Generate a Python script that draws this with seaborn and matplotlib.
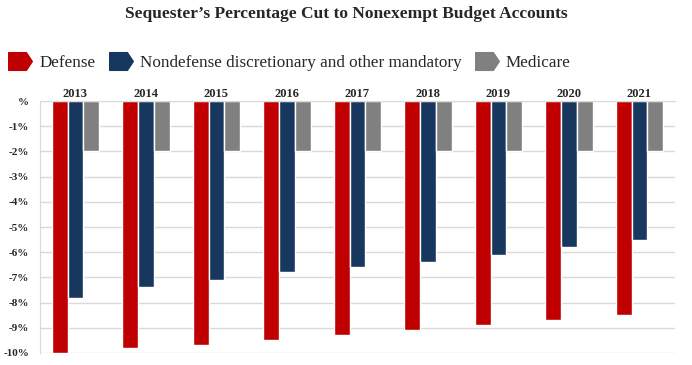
import numpy as np
import pandas as pd
import matplotlib
matplotlib.use("Agg")
import matplotlib.pyplot as plt
from matplotlib.lines import Line2D
from matplotlib.path import Path
import seaborn as sns

# Veriler (%)
years = ["2013", "2014", "2015", "2016", "2017", "2018", "2019", "2020", "2021"]
defense = [-10.0, -9.8, -9.7, -9.5, -9.3, -9.1, -8.9, -8.7, -8.5]
nondefense = [-7.8, -7.4, -7.1, -6.8, -6.6, -6.4, -6.1, -5.8, -5.5]
medicare = [-2.0, -2.0, -2.0, -2.0, -2.0, -2.0, -2.0, -2.0, -2.0]
series_names = ["Defense", "Nondefense discretionary and other mandatory", "Medicare"]
colors = ["#C00000", "#17375E", "#808080"]
ytick_labels = ["%", "-1%", "-2%", "-3%", "-4%", "-5%", "-6%", "-7%", "-8%", "-9%", "-10%"]

df = pd.DataFrame({
    "Yil": years * 3,
    "Deger": defense + nondefense + medicare,
    "Seri": [series_names[0]] * 9 + [series_names[1]] * 9 + [series_names[2]] * 9,
})

sns.set_style("white")
serif = ["Liberation Serif", "DejaVu Serif"]
plt.rcParams["font.family"] = serif

fig = plt.figure(figsize=(6.92, 3.65), dpi=100)
ax = fig.add_axes([0.058, 0.033, 0.917, 0.69])

sns.barplot(data=df, x="Yil", y="Deger", hue="Seri", palette=colors,
            width=0.67, saturation=1, ax=ax, legend=False)

ax.set_ylim(-10, 0)
ax.set_yticks(np.arange(0, -11, -1))
ax.set_yticklabels(ytick_labels, fontsize=8, fontweight="bold", family=serif)
ax.yaxis.grid(True, color="#D9D9D9", linewidth=1)
ax.set_axisbelow(True)

ax.xaxis.tick_top()
ax.tick_params(axis="x", length=0, pad=1)
ax.tick_params(axis="y", length=0, pad=8)
ax.set_xticks(range(len(years)))
ax.set_xticklabels(years, fontsize=9, fontweight="bold", family=serif)
ax.set_xlabel("")
ax.set_ylabel("")

for side in ["right", "bottom"]:
    ax.spines[side].set_visible(False)
ax.spines["top"].set_color("#D9D9D9")
ax.spines["left"].set_color("#D9D9D9")

# Ok biçimli lejant işaretleri
arrow = Path([(-1, -0.75), (0.5, -0.75), (1, 0), (0.5, 0.75), (-1, 0.75), (-1, -0.75)],
             [Path.MOVETO, Path.LINETO, Path.LINETO, Path.LINETO, Path.LINETO, Path.CLOSEPOLY])
handles = [Line2D([], [], linestyle="none", marker=arrow, markersize=17,
                  markerfacecolor=c, markeredgecolor=c) for c in colors]
fig.legend(handles, series_names, loc="center left", bbox_to_anchor=(-0.01, 0.828),
           ncol=3, frameon=False, prop={"family": serif, "size": 12.3},
           handlelength=1.4, handletextpad=0.4, columnspacing=0.8)

fig.text(0.5, 0.963, "Sequester\u2019s Percentage Cut to Nonexempt Budget Accounts",
         ha="center", va="center", fontsize=12.5, fontweight="bold", family=serif)

fig.savefig("out.png", dpi=100)
